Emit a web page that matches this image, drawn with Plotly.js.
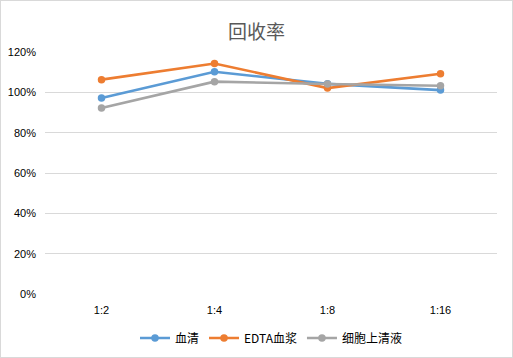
<!DOCTYPE html>
<html><head><meta charset="utf-8">
<script src="https://cdn.plot.ly/plotly-3.0.1.min.js"></script>
<style>
html,body{margin:0;padding:0;background:#fff;}
#wrap{position:relative;width:513px;height:358px;}
#chart{width:513px;height:358px;}
#border{position:absolute;left:0;top:0;width:513px;height:358px;box-sizing:border-box;border:1px solid #d9d9d9;pointer-events:none;}
</style></head>
<body>
<div id="wrap"><div id="chart"></div><div id="border"></div></div>
<script>
const categories = ['1:2', '1:4', '1:8', '1:16'];
const serum = [0.972, 1.102, 1.042, 1.011];
const edtaPlasma = [1.063, 1.143, 1.021, 1.092];
const cellSupernatant = [0.922, 1.053, 1.041, 1.033];
const seriesNames = ['血清', 'EDTA血浆', '细胞上清液'];
const colors = ['#5b9bd5', '#ed7d31', '#a5a5a5'];
const yTicks = [0, 0.2, 0.4, 0.6, 0.8, 1.0, 1.2];

const allSeries = [serum, edtaPlasma, cellSupernatant];
const traces = allSeries.map((vals, i) => ({
  x: categories, y: vals, name: seriesNames[i], type: 'scatter', mode: 'lines+markers',
  line: {color: colors[i], width: 2.6},
  marker: {color: colors[i], size: 7.5, symbol: 'circle'}
}));

const layout = {
  width: 513, height: 358,
  margin: {l: 45, r: 16, t: 51.5, b: 63.5},
  paper_bgcolor: '#fff', plot_bgcolor: '#fff',
  font: {family: '"Liberation Sans", "Noto Sans CJK SC", sans-serif', size: 11, color: '#595959'},
  title: {text: '回收率', font: {family: '"Noto Sans CJK SC", sans-serif', size: 19, color: '#595959'}, x: 0.5, xanchor: 'center', yref: 'container', y: 1 - 32/358, yanchor: 'middle'},
  showlegend: true,
  legend: {orientation: 'h', x: 0.5, xanchor: 'center', yref: 'container', y: 1 - 338/358, yanchor: 'middle',
    font: {family: '"Noto Sans CJK SC", "Liberation Sans", sans-serif', size: 12, color: '#000'},
    itemwidth: 30, tracegroupgap: 0, bgcolor: 'rgba(0,0,0,0)'},
  xaxis: {type: 'category', range: [-0.5, 3.5], automargin: false, showgrid: false, zeroline: false, showline: false, ticks: '',
    tickfont: {size: 11, color: '#000'}, ticklabelstandoff: 8},
  yaxis: {range: [0, 1.2], automargin: false, tickvals: yTicks, tickformat: '.0%', showgrid: true, gridcolor: '#d9d9d9', gridwidth: 1,
    zeroline: false, showline: false, ticks: '', ticklabelstandoff: 8, tickfont: {size: 11, color: '#000'}}
};
Plotly.newPlot('chart', traces, layout, {displayModeBar: false, staticPlot: true});
</script>
</body></html>
